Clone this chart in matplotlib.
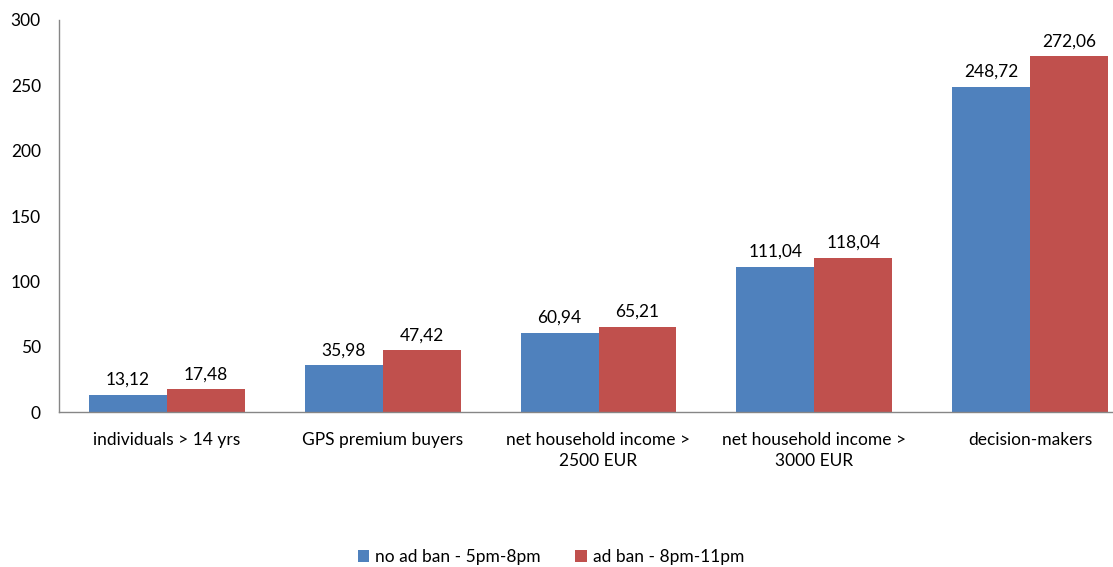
import matplotlib
matplotlib.use("Agg")
import matplotlib.pyplot as plt
import numpy as np

categories = ["individuals > 14 yrs", "GPS premium buyers",
              "net household income >\n2500 EUR", "net household income >\n3000 EUR",
              "decision-makers"]
no_ad_ban = [13.12, 35.98, 60.94, 111.04, 248.72]
ad_ban = [17.48, 47.42, 65.21, 118.04, 272.06]
series_names = ["no ad ban - 5pm-8pm", "ad ban - 8pm-11pm"]
yticks = [0, 50, 100, 150, 200, 250, 300]

plt.rcParams["font.family"] = ["Lato", "DejaVu Sans"]
blue = "#4F81BD"
red = "#C0504D"
fs = 12.5

fig = plt.figure(figsize=(11.13, 5.67), dpi=100)
# plot area runs slightly past the right edge of the canvas
ax = fig.add_axes([0.053, 0.273, 0.9695, 0.692])

x = np.arange(len(categories))
w = 0.361
b1 = ax.bar(x - w / 2, no_ad_ban, w, color=blue, label=series_names[0])
b2 = ax.bar(x + w / 2, ad_ban, w, color=red, label=series_names[1])

def fmt(v):
    return f"{v:.2f}".replace(".", ",")

for bars, vals in ((b1, no_ad_ban), (b2, ad_ban)):
    for r, v in zip(bars, vals):
        ax.annotate(fmt(v), (r.get_x() + r.get_width() / 2, v),
                    xytext=(0, 5), textcoords="offset points",
                    ha="center", va="bottom", fontsize=fs, color="black")

ax.set_xlim(-0.5, len(categories) - 0.5)
ax.set_ylim(0, 300)
ax.set_yticks(yticks)
ax.set_xticks(x)
ax.set_xticklabels(categories, fontsize=fs, linespacing=1.4)
ax.tick_params(axis="both", length=0, labelsize=fs)
ax.tick_params(axis="x", pad=14)
ax.tick_params(axis="y", pad=13)
for s in ("top", "right"):
    ax.spines[s].set_visible(False)
for s in ("left", "bottom"):
    ax.spines[s].set_color("#868686")
    ax.spines[s].set_linewidth(1)

fig.legend(handles=[b1, b2], labels=series_names, loc="center",
           bbox_to_anchor=(0.495, 0.017), ncol=2, frameon=False, fontsize=fs,
           handlelength=0.65, handleheight=0.65, handletextpad=0.35, columnspacing=2.0)

fig.savefig("out.png", dpi=100)
